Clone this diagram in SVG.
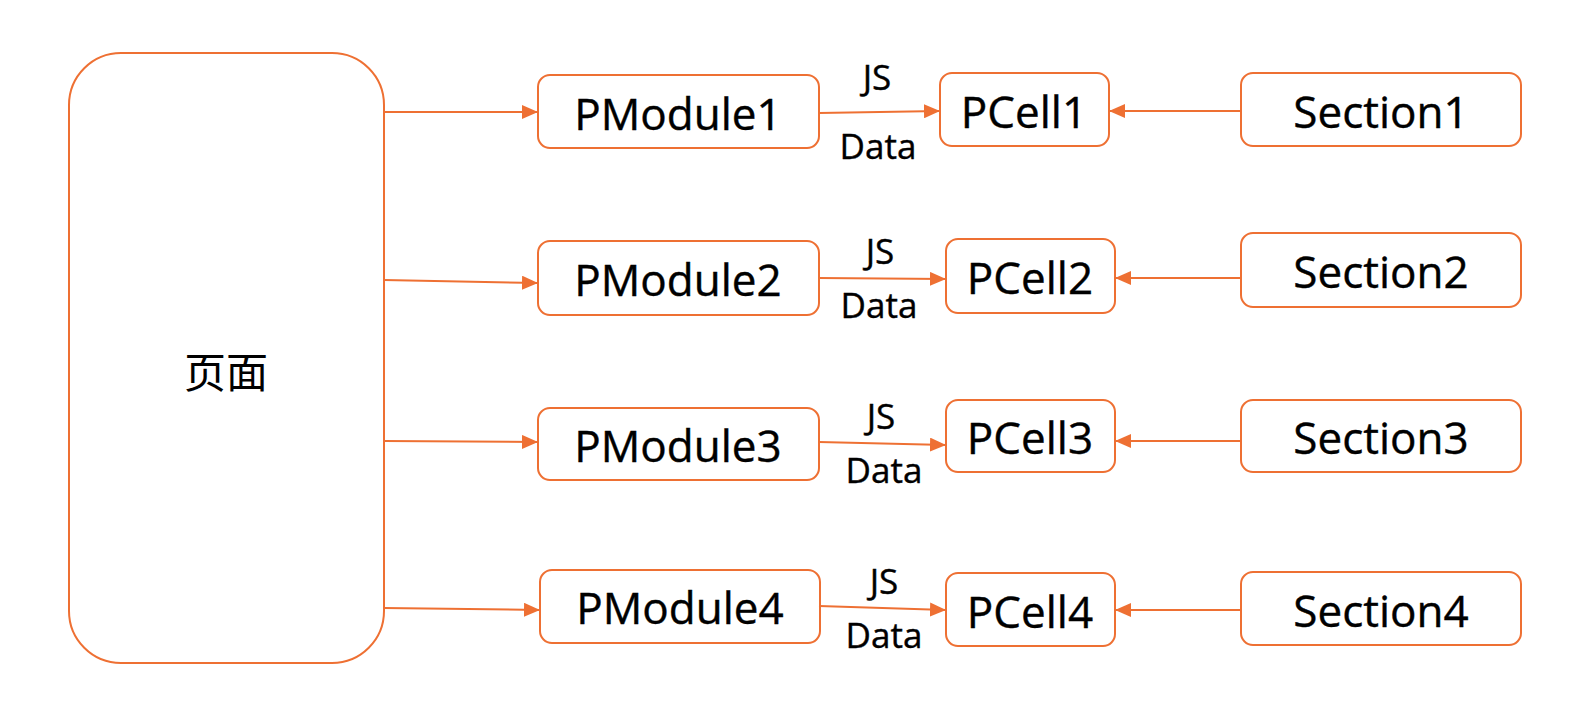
<svg xmlns="http://www.w3.org/2000/svg" width="1582" height="724" viewBox="0 0 1582 724">
<defs>
<marker id="ah" viewBox="0 0 16 14" refX="16" refY="7" markerWidth="16" markerHeight="14" markerUnits="userSpaceOnUse" orient="auto">
<path d="M0,0 L16,7 L0,14 z" fill="#EE7033"/>
</marker>
<style>
.box{fill:#fff;stroke:#EE7033;stroke-width:2}
.t{font-family:"Open Sans","Noto Sans",sans-serif;font-size:44px;fill:#000;text-anchor:middle;stroke:#000;stroke-width:0.4}
.l{font-family:"Open Sans","Noto Sans",sans-serif;font-size:35px;fill:#000;text-anchor:middle;stroke:#000;stroke-width:0.4}
.c{font-family:"Noto Sans CJK SC",sans-serif;font-size:42px;fill:#000;text-anchor:middle}
.e{fill:none;stroke:#EE7033;stroke-width:2;marker-end:url(#ah)}
</style>
</defs>
<rect width="1582" height="724" fill="#fff"/>
<g id="page"><rect class="box" x="69" y="53" width="315" height="610" rx="52"/><text class="c" x="226" y="388">页面</text></g>
<g id="pmodule1"><rect class="box" x="538" y="75" width="281" height="73" rx="12"/><text class="t" x="678" y="130">PModule1</text></g>
<g id="pmodule2"><rect class="box" x="538" y="241" width="281" height="74" rx="12"/><text class="t" x="678" y="296">PModule2</text></g>
<g id="pmodule3"><rect class="box" x="538" y="408" width="281" height="72" rx="12"/><text class="t" x="678" y="462">PModule3</text></g>
<g id="pmodule4"><rect class="box" x="540" y="570" width="280" height="73" rx="12"/><text class="t" x="680" y="624">PModule4</text></g>
<g id="pcell1"><rect class="box" x="940" y="73" width="169" height="73" rx="12"/><text class="t" x="1024" y="128">PCell1</text></g>
<g id="pcell2"><rect class="box" x="946" y="239" width="169" height="74" rx="12"/><text class="t" x="1030" y="294">PCell2</text></g>
<g id="pcell3"><rect class="box" x="946" y="400" width="169" height="72" rx="12"/><text class="t" x="1030" y="454">PCell3</text></g>
<g id="pcell4"><rect class="box" x="946" y="573" width="169" height="73" rx="12"/><text class="t" x="1030" y="628">PCell4</text></g>
<g id="section1"><rect class="box" x="1241" y="73" width="280" height="73" rx="12"/><text class="t" x="1381" y="128">Section1</text></g>
<g id="section2"><rect class="box" x="1241" y="233" width="280" height="74" rx="12"/><text class="t" x="1381" y="288">Section2</text></g>
<g id="section3"><rect class="box" x="1241" y="400" width="280" height="72" rx="12"/><text class="t" x="1381" y="454">Section3</text></g>
<g id="section4"><rect class="box" x="1241" y="572" width="280" height="73" rx="12"/><text class="t" x="1381" y="627">Section4</text></g>
<g id="connectors">
<line class="e" x1="384" y1="112" x2="538" y2="112"/>
<line class="e" x1="384" y1="280" x2="538" y2="283"/>
<line class="e" x1="384" y1="441" x2="538" y2="442"/>
<line class="e" x1="384" y1="608" x2="540" y2="610"/>
<line class="e" x1="819" y1="113" x2="940" y2="111"/>
<line class="e" x1="819" y1="278" x2="946" y2="279"/>
<line class="e" x1="819" y1="442" x2="946" y2="445"/>
<line class="e" x1="819" y1="606" x2="946" y2="610"/>
<line class="e" x1="1241" y1="111" x2="1109" y2="111"/>
<line class="e" x1="1241" y1="278" x2="1115" y2="278"/>
<line class="e" x1="1241" y1="441" x2="1115" y2="441"/>
<line class="e" x1="1241" y1="610" x2="1115" y2="610"/>
</g>
<g id="labels">
<text class="l" x="877" y="90">JS</text><text class="l" x="878" y="159">Data</text>
<text class="l" x="880" y="264">JS</text><text class="l" x="879" y="318">Data</text>
<text class="l" x="881" y="429">JS</text><text class="l" x="884" y="483">Data</text>
<text class="l" x="884" y="594">JS</text><text class="l" x="884" y="648">Data</text>
</g>
</svg>
